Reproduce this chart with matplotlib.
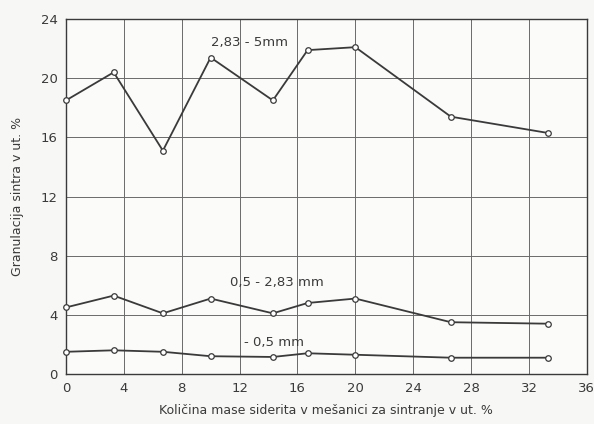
import matplotlib.pyplot as plt

x = [0, 3.3, 6.7, 10, 14.3, 16.7, 20, 26.6, 33.3]
coarse = [18.5, 20.4, 15.1, 21.4, 18.5, 21.9, 22.1, 17.4, 16.3]
middle = [4.5, 5.3, 4.1, 5.1, 4.1, 4.8, 5.1, 3.5, 3.4]
fine = [1.5, 1.6, 1.5, 1.2, 1.15, 1.4, 1.3, 1.1, 1.1]

xticks = [0, 4, 8, 12, 16, 20, 24, 28, 32, 36]
yticks = [0, 4, 8, 12, 16, 20, 24]

ink = '#3a3a3a'
fig = plt.figure(figsize=(5.94, 4.24), dpi=100, facecolor='#f7f7f5')
ax = fig.add_axes([0.111, 0.118, 0.877, 0.837])
ax.set_facecolor('#fbfbfa')

for ys in (coarse, middle, fine):
    ax.plot(x, ys, color=ink, linewidth=1.3, marker='o', markersize=4,
            markerfacecolor='white', markeredgecolor=ink, markeredgewidth=0.9,
            clip_on=False, zorder=3)

ax.text(12.7, 22.4, '2,83 - 5mm', fontsize=9.5, color=ink, ha='center', va='center')
ax.text(14.6, 6.2, '0,5 - 2,83 mm', fontsize=9.5, color=ink, ha='center', va='center')
ax.text(14.4, 2.1, '- 0,5 mm', fontsize=9.5, color=ink, ha='center', va='center')

ax.set_xlim(0, 36)
ax.set_ylim(0, 24)
ax.set_xticks(xticks)
ax.set_yticks(yticks)
ax.grid(True, color='#6a6a6a', linewidth=0.7)
ax.set_axisbelow(True)
ax.tick_params(length=0, labelsize=9.5, colors=ink, pad=6)
for s in ax.spines.values():
    s.set_color(ink)
    s.set_linewidth(1.0)

ax.set_xlabel('Količina mase siderita v mešanici za sintranje v ut. %', fontsize=9,
              color=ink, labelpad=6)
ax.set_ylabel('Granulacija sintra v ut. %', fontsize=9, color=ink, labelpad=12)

fig.savefig('out.png', dpi=100, facecolor=fig.get_facecolor())
